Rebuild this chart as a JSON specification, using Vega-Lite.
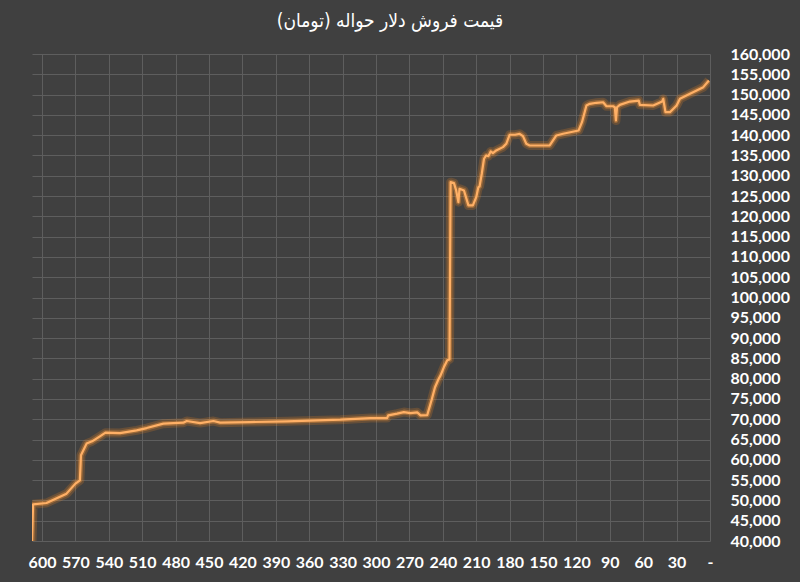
{
  "$schema": "https://vega.github.io/schema/vega-lite/v6.json",
  "autosize": "none",
  "width": 678,
  "height": 487,
  "padding": {"left": 32, "top": 54, "right": 90, "bottom": 41},
  "background": "#404040",
  "title": {
    "text": "قیمت فروش دلار حواله (تومان)",
    "font": "DejaVu Sans Condensed",
    "fontSize": 19,
    "fontWeight": "normal",
    "color": "#ffffff",
    "anchor": "middle",
    "dx": 19,
    "offset": 15
  },
  "config": {
    "view": {"stroke": null},
    "axis": {
      "labelFont": "Lato",
      "labelFontSize": 16,
      "labelFontWeight": "bold",
      "labelColor": "#ffffff",
      "gridColor": "#5e5e5e",
      "gridWidth": 1,
      "domain": false,
      "ticks": false,
      "title": null
    }
  },
  "data": {
    "values": [
      {"day": 609, "price": 40000},
      {"day": 608, "price": 49040},
      {"day": 596, "price": 49360},
      {"day": 578, "price": 51670},
      {"day": 570, "price": 54140},
      {"day": 566, "price": 54950},
      {"day": 565, "price": 61110},
      {"day": 560, "price": 64000},
      {"day": 555, "price": 64560},
      {"day": 548, "price": 65790},
      {"day": 543, "price": 66700},
      {"day": 530, "price": 66600},
      {"day": 515, "price": 67270},
      {"day": 506, "price": 67830},
      {"day": 491, "price": 68920},
      {"day": 473, "price": 69160},
      {"day": 470, "price": 69560},
      {"day": 458, "price": 69060},
      {"day": 446, "price": 69560},
      {"day": 440, "price": 69160},
      {"day": 413, "price": 69300},
      {"day": 380, "price": 69500},
      {"day": 332, "price": 69900},
      {"day": 305, "price": 70300},
      {"day": 290, "price": 70300},
      {"day": 289, "price": 70960},
      {"day": 281, "price": 71380},
      {"day": 275, "price": 71770},
      {"day": 269, "price": 71530},
      {"day": 263, "price": 71700},
      {"day": 260, "price": 70960},
      {"day": 254, "price": 71030},
      {"day": 250, "price": 74800},
      {"day": 247, "price": 77900},
      {"day": 244, "price": 79800},
      {"day": 242, "price": 80810},
      {"day": 239, "price": 82860},
      {"day": 236, "price": 84510},
      {"day": 234, "price": 84750},
      {"day": 233, "price": 128420},
      {"day": 230, "price": 128180},
      {"day": 228, "price": 126380},
      {"day": 226, "price": 123500},
      {"day": 225, "price": 126800},
      {"day": 221, "price": 126380},
      {"day": 217, "price": 122690},
      {"day": 213, "price": 122690},
      {"day": 210, "price": 124730},
      {"day": 208, "price": 127200},
      {"day": 207, "price": 127360},
      {"day": 205, "price": 130490},
      {"day": 203, "price": 134190},
      {"day": 201, "price": 135000},
      {"day": 199, "price": 134830},
      {"day": 197, "price": 135990},
      {"day": 195, "price": 135570},
      {"day": 192, "price": 136230},
      {"day": 186, "price": 137050},
      {"day": 183, "price": 137880},
      {"day": 180, "price": 140100},
      {"day": 175, "price": 140100},
      {"day": 171, "price": 140340},
      {"day": 168, "price": 139760},
      {"day": 165, "price": 137880},
      {"day": 162, "price": 137460},
      {"day": 144, "price": 137460},
      {"day": 138, "price": 139930},
      {"day": 132, "price": 140340},
      {"day": 118, "price": 141160},
      {"day": 115, "price": 143200},
      {"day": 111, "price": 147310},
      {"day": 108, "price": 147720},
      {"day": 102, "price": 147980},
      {"day": 96, "price": 148110},
      {"day": 93, "price": 147130},
      {"day": 87, "price": 147130},
      {"day": 85.5, "price": 146880},
      {"day": 84.5, "price": 143610},
      {"day": 83.5, "price": 146880},
      {"day": 81, "price": 147470},
      {"day": 72, "price": 148280},
      {"day": 64, "price": 148530},
      {"day": 63, "price": 147470},
      {"day": 51, "price": 147310},
      {"day": 43, "price": 148280},
      {"day": 42, "price": 148960},
      {"day": 40, "price": 145670},
      {"day": 36, "price": 145670},
      {"day": 30, "price": 147310},
      {"day": 27, "price": 148960},
      {"day": 18, "price": 150190},
      {"day": 12, "price": 151010},
      {"day": 6, "price": 151830},
      {"day": 1, "price": 153470}
    ]
  },
  "encoding": {
    "x": {
      "field": "day",
      "type": "quantitative",
      "scale": {"domain": [0, 609], "reverse": true, "nice": false, "zero": false},
      "axis": {
        "values": [0, 30, 60, 90, 120, 150, 180, 210, 240, 270, 300, 330, 360, 390, 420, 450, 480, 510, 540, 570, 600],
        "labelExpr": "datum.value == 0 ? '-' : datum.value",
        "labelPadding": 13,
        "labelFlush": false,
        "labelOverlap": false
      }
    },
    "y": {
      "field": "price",
      "type": "quantitative",
      "scale": {"domain": [40000, 160000], "nice": false, "zero": false},
      "axis": {
        "orient": "right",
        "values": [40000, 45000, 50000, 55000, 60000, 65000, 70000, 75000, 80000, 85000, 90000, 95000, 100000, 105000, 110000, 115000, 120000, 125000, 130000, 135000, 140000, 145000, 150000, 155000, 160000],
        "format": ",d",
        "labelPadding": 20,
        "labelAlign": "left",
        "labelOverlap": false
      }
    }
  },
  "layer": [
    {
      "mark": {"type": "line", "color": "#ff8a1f", "strokeWidth": 9, "opacity": 0.2, "strokeJoin": "round", "clip": true}
    },
    {
      "mark": {"type": "line", "color": "#ff9a3a", "strokeWidth": 5, "opacity": 0.35, "strokeJoin": "round", "clip": true}
    },
    {
      "mark": {"type": "line", "color": "#ffb066", "strokeWidth": 2.2, "strokeJoin": "round", "clip": true}
    }
  ]
}
